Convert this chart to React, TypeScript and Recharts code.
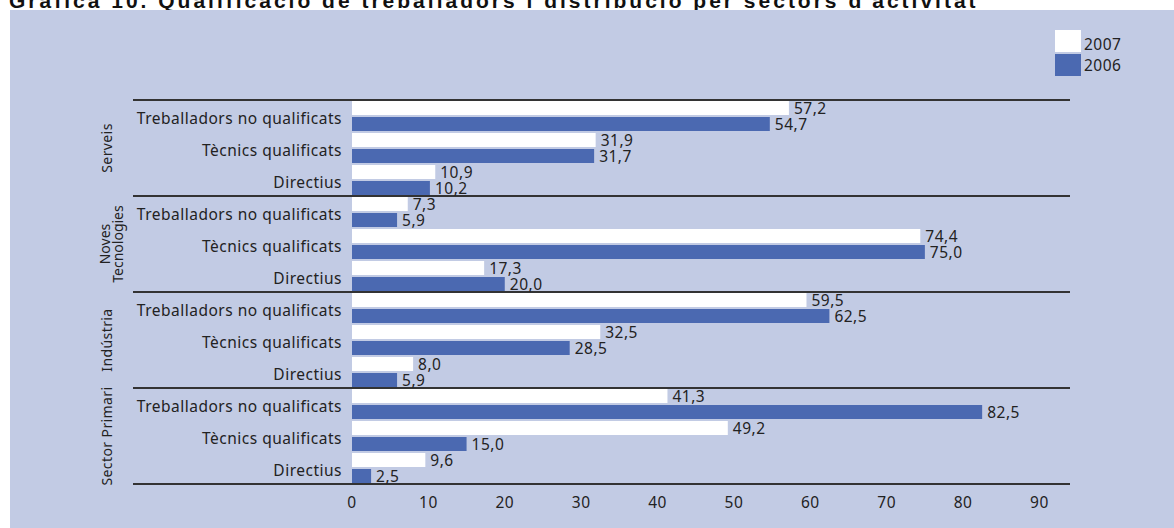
import React from 'react';
import { BarChart, Bar, XAxis, YAxis, LabelList } from 'recharts';

const title = "Gràfica 10. Qualificació de treballadors i distribució per sectors d'activitat";
const groups = ['Serveis', 'Noves Tecnologies', 'Indústria', 'Sector Primari'];
const roles = ['Treballadors no qualificats', 'Tècnics qualificats', 'Directius'];
const values2007 = [57.2, 31.9, 10.9, 7.3, 74.4, 17.3, 59.5, 32.5, 8.0, 41.3, 49.2, 9.6];
const values2006 = [54.7, 31.7, 10.2, 5.9, 75.0, 20.0, 62.5, 28.5, 5.9, 82.5, 15.0, 2.5];
const xTicks = [0, 10, 20, 30, 40, 50, 60, 70, 80, 90];
const seriesNames = ['2007', '2006'];

const W = 1174;
const H = 528;
const MARGIN = { top: 100, right: 104, bottom: 0, left: 0 };
const X_AXIS_H = 44;
const Y_AXIS_W = 352;
const LINE_LEFT = 133;
const BG = '#c2cbe4';
const BLUE = '#4b69b1';
const WHITE = '#ffffff';
const TEXT = '#222222';
const FONT = "'Noto Sans', sans-serif";
const FS = 15.5;
const LS = 0.5;

const data = groups.flatMap((g, gi) =>
  roles.map((r, ri) => ({
    key: `${g}|${r}`,
    v2007: values2007[gi * 3 + ri],
    v2006: values2006[gi * 3 + ri],
  }))
);

const plotH = H - MARGIN.top - MARGIN.bottom - X_AXIS_H;
const band = plotH / data.length;

const fmt = (v: any) => Number(v).toFixed(1).replace('.', ',');

const CategoryTick = (props: any) => {
  const { x, y, payload, index } = props;
  const [group, role] = String(payload.value).split('|');
  const pos = index % roles.length;
  const right = W - MARGIN.right;
  const groupLines = group.split(' ');
  return (
    <g>
      <text x={x - 4} y={y + 4} textAnchor="end" dominantBaseline="middle" fill={TEXT} fontSize={FS} letterSpacing={LS} fontFamily={FONT}>
        {role}
      </text>
      {pos === 0 && (
        <line x1={LINE_LEFT} x2={right} y1={y - band / 2} y2={y - band / 2} stroke="#333" strokeWidth={2} />
      )}
      {index === data.length - 1 && (
        <line x1={LINE_LEFT} x2={right} y1={y + band / 2} y2={y + band / 2} stroke="#333" strokeWidth={2} />
      )}
      {pos === 1 && (
        groupLines.length === 1 || group === 'Sector Primari' ? (
          <text x={112} y={y} transform={`rotate(-90, 112, ${y})`} textAnchor="middle" fill={TEXT} fontSize={14} letterSpacing={0.4} fontFamily={FONT}>
            {group}
          </text>
        ) : (
          <text x={110} y={y} transform={`rotate(-90, 110, ${y})`} textAnchor="middle" fill={TEXT} fontSize={14} fontFamily={FONT}>
            {groupLines.map((l, i) => (
              <tspan key={i} x={110} dy={i === 0 ? 0 : 13}>{l}</tspan>
            ))}
          </text>
        )
      )}
    </g>
  );
};

const XTick = (props: any) => {
  const { x, y, payload } = props;
  return (
    <text x={x} y={y + 4} textAnchor="middle" dominantBaseline="middle" fill={TEXT} fontSize={FS} letterSpacing={LS} fontFamily={FONT}>
      {payload.value}
    </text>
  );
};

export default function App() {
  return (
    <div style={{ position: 'relative', width: W, height: H, overflow: 'hidden', background: '#fff' }}>
      <style>{'body{margin:0}'}</style>
      <div style={{ position: 'absolute', left: 10, top: 10, width: W - 10, height: H - 10, background: BG }} />
      <svg width={W} height={10} style={{ position: 'absolute', left: 0, top: 0 }}>
        <text x={9} y={7.5} fontFamily="'Liberation Sans', Arial, sans-serif" fontWeight="bold" fontSize={21} letterSpacing={3.0} fill="#111">
          {title}
        </text>
      </svg>
      <div style={{ position: 'absolute', left: 1055, top: 30, fontFamily: FONT, fontSize: FS, letterSpacing: LS, color: TEXT }}>
        {seriesNames.map((n, i) => (
          <div key={n} style={{ display: 'flex', alignItems: 'center', height: 22, marginBottom: 2 }}>
            <div style={{ width: 26, height: 22, background: i === 0 ? WHITE : BLUE }} />
            <span style={{ marginLeft: 3, position: 'relative', top: i === 0 ? 3 : 0 }}>{n}</span>
          </div>
        ))}
      </div>
      <div style={{ position: 'absolute', left: 0, top: 0 }}>
        <BarChart width={W} height={H} data={data} layout="vertical" margin={MARGIN} barGap={2} barCategoryGap={1}>
          <XAxis type="number" domain={[0, 94]} ticks={xTicks} axisLine={false} tickLine={false} height={X_AXIS_H} tick={<XTick />} tickMargin={10} />
          <YAxis type="category" dataKey="key" width={Y_AXIS_W} axisLine={false} tickLine={false} tick={<CategoryTick />} interval={0} tickMargin={0} />
          <Bar dataKey="v2007" name={seriesNames[0]} fill={WHITE} isAnimationActive={false}>
            <LabelList dataKey="v2007" position="right" offset={5} formatter={fmt} fill={TEXT} fontSize={FS} letterSpacing={LS} fontFamily={FONT} />
          </Bar>
          <Bar dataKey="v2006" name={seriesNames[1]} fill={BLUE} isAnimationActive={false}>
            <LabelList dataKey="v2006" position="right" offset={5} formatter={fmt} fill={TEXT} fontSize={FS} letterSpacing={LS} fontFamily={FONT} />
          </Bar>
        </BarChart>
      </div>
    </div>
  );
}
